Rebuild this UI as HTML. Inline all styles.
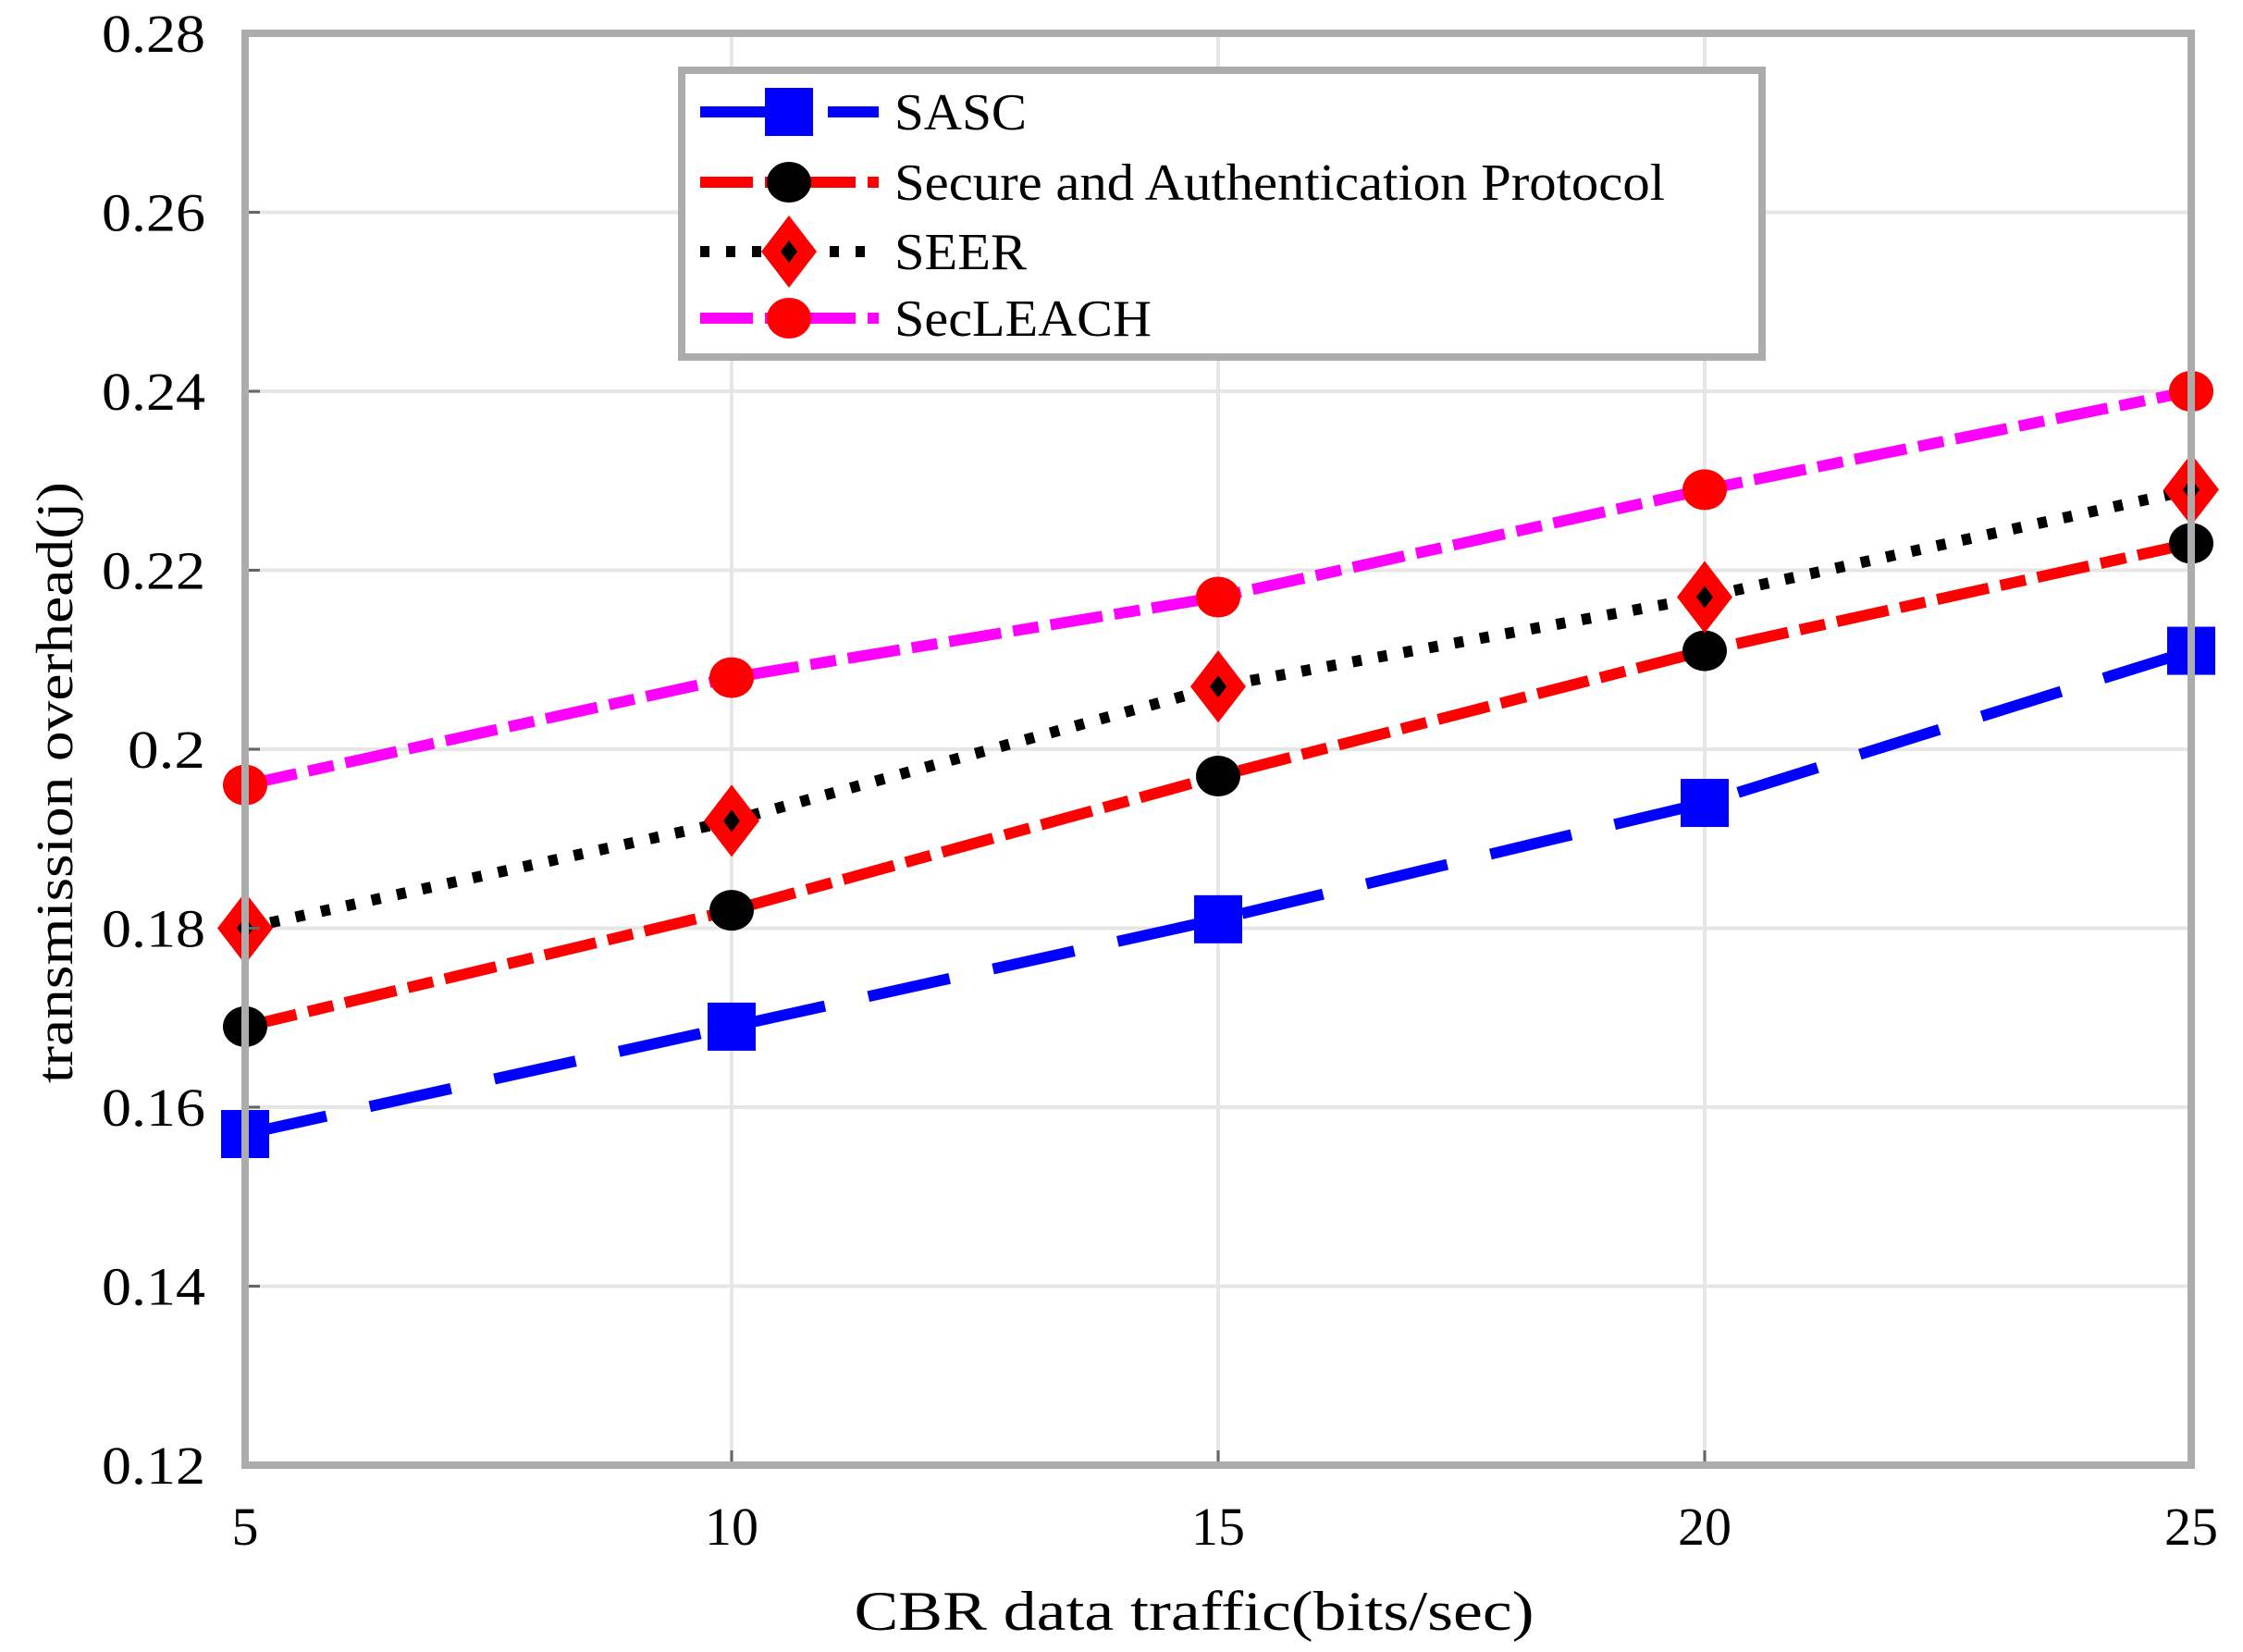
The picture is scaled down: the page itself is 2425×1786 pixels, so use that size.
<!DOCTYPE html>
<html><head><meta charset="utf-8">
<style>html,body{margin:0;padding:0;background:#fff;}svg{display:block;}</style>
</head><body>
<svg id="chart" width="2425" height="1786" viewBox="0 0 2425 1786" xmlns="http://www.w3.org/2000/svg" font-family="'Liberation Serif', serif">
<g id="grid"></g>
<g id="series"></g>
<g id="axes"></g>
<text x="1291" y="1762" font-size="60" text-anchor="middle" textLength="735" lengthAdjust="spacingAndGlyphs">CBR data traffic(bits/sec)</text>
<text transform="translate(78,846) rotate(-90)" font-size="56" text-anchor="middle" textLength="650" lengthAdjust="spacingAndGlyphs">transmission overhead(j)</text>
<g id="legend"></g>
</svg>
<script>
const categories = [5, 10, 15, 20, 25];
const sascValues = [0.157, 0.169, 0.181, 0.194, 0.211];
const sapValues = [0.169, 0.182, 0.197, 0.211, 0.223];
const seerValues = [0.180, 0.192, 0.207, 0.217, 0.229];
const secleachValues = [0.196, 0.208, 0.217, 0.229, 0.240];
const yTicks = ["0.12","0.14","0.16","0.18","0.2","0.22","0.24","0.26","0.28"];
const xTicks = ["5","10","15","20","25"];
const seriesNames = ["SASC","Secure and Authentication Protocol","SEER","SecLEACH"];

const NS = "http://www.w3.org/2000/svg";
const L = 265, R = 2369, T = 36, B = 1584;
const xMin = 5, xMax = 25, yMin = 0.12, yMax = 0.28;
const xs = v => L + (v - xMin) / (xMax - xMin) * (R - L);
const ys = v => B - (v - yMin) / (yMax - yMin) * (B - T);
function mk(tag, attrs, parent) {
  const e = document.createElementNS(NS, tag);
  for (const k in attrs) e.setAttribute(k, attrs[k]);
  parent.appendChild(e); return e;
}
const grid = document.getElementById('grid');
const axes = document.getElementById('axes');
const series = document.getElementById('series');
const legend = document.getElementById('legend');

yTicks.forEach(t => {
  const y = ys(parseFloat(t));
  const g = mk('line', {x1: L, x2: R, y1: y, y2: y, stroke: '#e6e6e6', 'stroke-width': 4}, grid);
  
  
  const tk = mk('line', {x1: L, x2: L + 16, y1: y, y2: y, stroke: '#666', 'stroke-width': 3}, axes);
  
  
  const tx = mk('text', {x: 222, y: y + 20, 'font-size': 58, 'text-anchor': 'end', 'textLength': t.length * 28, 'lengthAdjust': 'spacingAndGlyphs'}, axes);
  tx.textContent = t;
  
  
});
xTicks.forEach(t => {
  const x = xs(parseFloat(t));
  const g = mk('line', {x1: x, x2: x, y1: T, y2: B, stroke: '#e6e6e6', 'stroke-width': 4}, grid);
  
  
  const tk = mk('line', {x1: x, x2: x, y1: B, y2: B - 16, stroke: '#666', 'stroke-width': 3}, axes);
  
  
  const tx = mk('text', {x: x, y: 1670, 'font-size': 58, 'text-anchor': 'middle'}, axes);
  tx.textContent = t;
  
  
});
const frame = mk('rect', {x: L, y: T, width: R - L, height: B - T, fill: 'none', stroke: '#acacac', 'stroke-width': 8}, axes);



const styles = [
  {vals: sascValues, color: '#0000ff', dash: '90 48', marker: 'square', mcolor: '#0000ff'},
  {vals: sapValues, color: '#ff0000', dash: '57 13 28 13', marker: 'circle', mcolor: '#000000'},
  {vals: seerValues, color: '#000000', dash: '10 18', marker: 'diamond', mcolor: '#ff0000'},
  {vals: secleachValues, color: '#ff00ff', dash: '57 13 28 13', marker: 'circle', mcolor: '#ff0000'}
];
function marker(kind, x, y, col, parent) {
  let m;
  if (kind === 'square') m = mk('rect', {x: x - 26, y: y - 26, width: 52, height: 52, fill: col}, parent);
  else if (kind === 'circle') m = mk('ellipse', {cx: x, cy: y, rx: 24, ry: 22, fill: col}, parent);
  else {
    m = mk('polygon', {points: `${x},${y-39} ${x+30},${y} ${x},${y+39} ${x-30},${y}`, fill: col}, parent);
    const d = mk('polygon', {points: `${x},${y-12} ${x+9},${y} ${x},${y+12} ${x-9},${y}`, fill: '#000'}, parent);
    
    
  }
  return m;
}
styles.forEach((s, i) => {
  const g = mk('g', {}, series);
  
  
  const pts = s.vals.map((v, j) => xs(categories[j]) + ',' + ys(v)).join(' ');
  const pl = mk('polyline', {points: pts, fill: 'none', stroke: s.color, 'stroke-width': 12, 'stroke-dasharray': s.dash}, g);
  
  
  s.vals.forEach((v, j) => {
    const m = marker(s.marker, xs(categories[j]), ys(v), s.mcolor, g);
    
    
  });
});

// legend
const lb = mk('rect', {x: 737, y: 76, width: 1168, height: 310, fill: '#fff', stroke: '#acacac', 'stroke-width': 8}, legend);


const ly = [121, 197, 272, 344];
const lw = [143, 833, 143, 278];
styles.forEach((s, i) => {
  const g = mk('g', {}, legend);
  
  
  const ln = mk('line', {x1: 757, x2: 950, y1: ly[i], y2: ly[i], stroke: s.color, 'stroke-width': 12, 'stroke-dasharray': s.dash}, g);
  
  
  const m = marker(s.marker, 853, ly[i], s.mcolor, g);
  
  
  const t = mk('text', {x: 967, y: ly[i] + 19, 'font-size': 56, 'textLength': lw[i], 'lengthAdjust': 'spacingAndGlyphs'}, g);
  t.textContent = seriesNames[i];
  
  
});
</script>
</body></html>
